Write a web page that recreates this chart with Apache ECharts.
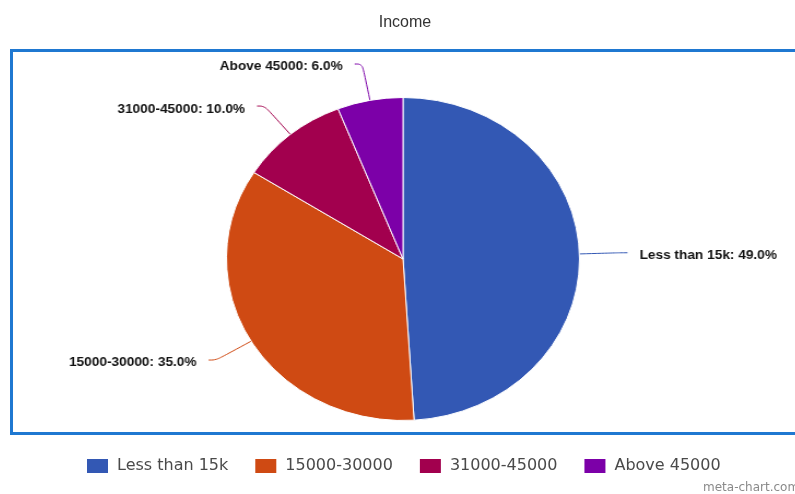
<!DOCTYPE html>
<html>
<head>
<meta charset="utf-8">
<script src="https://cdn.jsdelivr.net/npm/echarts@6/dist/echarts.min.js"></script>
<style>
  html, body { margin: 0; padding: 0; background: #fff; overflow: hidden; }
  #wrap { position: relative; width: 795px; height: 494px; overflow: hidden; }
  #base, #pie { position: absolute; left: 0; top: 0; width: 795px; height: 494px; }
  #pie { transform: scaleX(1.093); transform-origin: 403px 0; }
</style>
</head>
<body>
<div id="wrap">
  <div id="base"></div>
  <div id="pie"></div>
</div>
<script>
// ---- data ----
const chartTitle = 'Income';
const categories = ['Less than 15k', '15000-30000', '31000-45000', 'Above 45000'];
const values = [49.0, 35.0, 10.0, 6.0];
const colors = ['#3358b4', '#cf4a13', '#a2004e', '#7c00a8'];
const watermark = 'meta-chart.com';

const pieData = categories.map((c, i) => ({ name: c, value: values[i], itemStyle: { color: colors[i] } }));

// ---- base layer: title, frame, legend, watermark ----
const base = echarts.init(document.getElementById('base'), null, { renderer: 'canvas' });
base.setOption({
  backgroundColor: '#fff',
  animation: false,
  title: {
    text: chartTitle,
    left: 400,
    textAlign: 'center',
    top: 10,
    textStyle: { fontFamily: 'Liberation Sans', fontSize: 16, fontWeight: 'normal', color: '#333' }
  },
  legend: {
    left: 87,
    top: 458,
    padding: 0,
    itemWidth: 21,
    itemHeight: 14,
    itemGap: 27,
    icon: 'rect',
    data: categories,
    textStyle: { fontFamily: 'DejaVu Sans', fontSize: 16, color: '#4a4a4a', padding: [0, 0, 0, 4] }
  },
  graphic: [
    { type: 'rect', shape: { x: 11.5, y: 50.5, width: 800, height: 383 },
      style: { fill: 'none', stroke: '#1f78d1', lineWidth: 3 } },
    { type: 'text', x: 703, y: 482,
      style: { text: watermark, fill: '#8a8a8a', font: '12px "DejaVu Sans"' } }
  ],
  series: [{
    type: 'pie', radius: 0, center: [-100, -100], silent: true,
    label: { show: false }, labelLine: { show: false },
    data: pieData
  }]
});

// ---- pie layer (stretched horizontally to the reference's elliptical pie) ----
const pie = echarts.init(document.getElementById('pie'), null, { renderer: 'canvas' });
pie.setOption({
  animation: false,
  series: [{
    type: 'pie',
    center: [403, 259],
    radius: 161.5,
    startAngle: 90,
    clockwise: true,
    avoidLabelOverlap: false,
    itemStyle: { borderColor: '#fff', borderWidth: 1 },
    label: {
      show: true,
      formatter: p => p.name + ': ' + p.value.toFixed(1) + '%',
      fontFamily: 'Liberation Sans',
      fontSize: 12.5,
      fontWeight: 'bold',
      color: '#111',
      distanceToLabelLine: 11
    },
    labelLayout: { dy: 3 },
    labelLine: { show: true, length: 37, length2: 7, smooth: 0.4, lineStyle: { width: 1 } },
    data: pieData
  }]
});
</script>
</body>
</html>
